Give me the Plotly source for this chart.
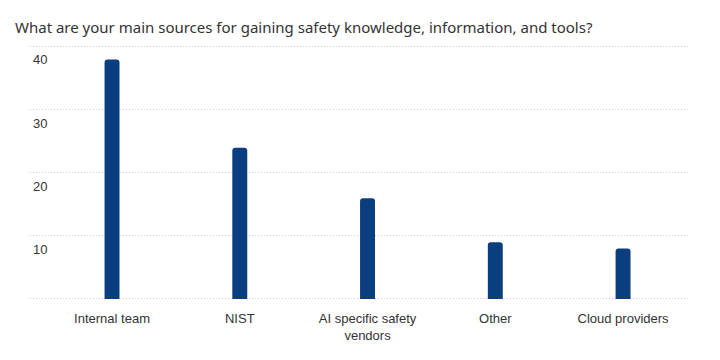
import plotly.graph_objects as go

categories = ["Internal team", "NIST", "AI specific safety<br>vendors", "Other", "Cloud providers"]
values = [38, 24, 16, 9, 8]
y_tickvals = [0, 10, 20, 30, 40]
y_ticktext = ["", "10", "20", "30", "40"]
title_text = "What are your main sources for gaining safety knowledge, information, and tools?"

fig = go.Figure(
    go.Bar(
        x=list(range(len(categories))),
        y=values,
        width=0.117,
        marker=dict(color="#0b3e7e", cornerradius=3, line=dict(width=0)),
        hoverinfo="skip",
    )
)

fig.update_layout(
    width=720,
    height=360,
    margin=dict(l=30, r=30, t=40, b=60),
    paper_bgcolor="white",
    plot_bgcolor="white",
    showlegend=False,
    title=dict(
        text=title_text,
        x=15 / 720,
        xanchor="left",
        y=1 - 28 / 360,
        yanchor="middle",
        font=dict(family="Noto Sans", size=15, color="#333333"),
    ),
    font=dict(family="Liberation Sans, Arial", size=13, color="#333333"),
)

fig.update_xaxes(
    tickmode="array",
    tickvals=list(range(len(categories))),
    ticktext=categories,
    range=[-0.642, 4.524],
    showgrid=False,
    zeroline=False,
    showline=False,
    ticks="",
    automargin=False,
    ticklabelstandoff=9,
    tickfont=dict(size=13, color="#333333"),
)

fig.update_yaxes(
    range=[-0.16, 41.1],
    tickmode="array",
    tickvals=y_tickvals,
    ticktext=y_ticktext,
    showgrid=True,
    gridcolor="#cccccc",
    griddash="1px,2px",
    gridwidth=1,
    zeroline=False,
    showline=False,
    ticks="",
    automargin=False,
    ticklabelposition="inside",
    ticklabelshift=13,
    ticklabelstandoff=0,
    tickfont=dict(size=13, color="#333333"),
)

fig.write_html(
    "out.html",
    config={"displayModeBar": False},
    post_script="document.body.style.margin='0';",
)
